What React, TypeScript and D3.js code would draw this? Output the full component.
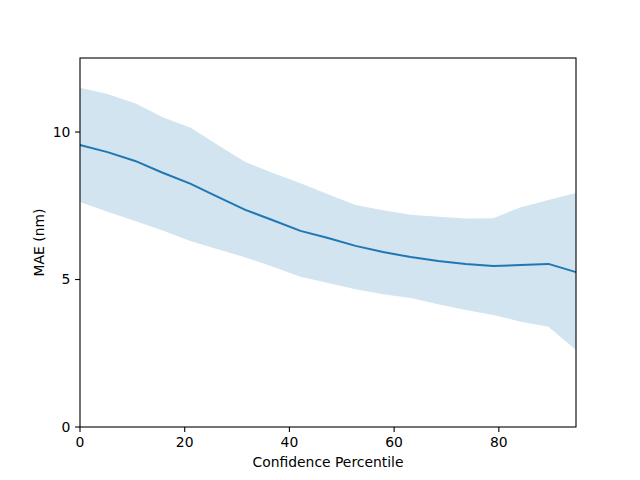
import { scaleLinear, line as d3_line, area as d3_area } from "d3";

// x positions: 19 percentile steps
const percentiles = [0, 5.26, 10.53, 15.79, 21.05, 26.32, 31.58, 36.84, 42.11, 47.37, 52.63, 57.89, 63.16, 68.42, 73.68, 78.95, 84.21, 89.47, 94.74];
const maeMean = [9.56, 9.32, 9.02, 8.62, 8.25, 7.8, 7.36, 7.01, 6.65, 6.41, 6.14, 5.93, 5.76, 5.63, 5.53, 5.46, 5.49, 5.53, 5.25];
const maeUpper = [11.5, 11.29, 10.98, 10.5, 10.15, 9.56, 8.98, 8.61, 8.26, 7.89, 7.53, 7.35, 7.2, 7.13, 7.07, 7.08, 7.45, 7.7, 7.93];
const maeLower = [7.63, 7.3, 6.98, 6.66, 6.31, 6.03, 5.75, 5.43, 5.09, 4.88, 4.67, 4.5, 4.37, 4.16, 3.97, 3.8, 3.57, 3.4, 2.61];
const xTicks = [0, 20, 40, 60, 80];
const yTicks = [0, 5, 10];

const W = 640;
const H = 480;
const margin = { top: 58, right: 64, bottom: 53, left: 80 };
const font = "DejaVu Sans, sans-serif";

export default function App() {
  const x = scaleLinear()
    .domain([0, 94.74])
    .range([margin.left, W - margin.right]);
  const y = scaleLinear()
    .domain([0, 12.51])
    .range([H - margin.bottom, margin.top]);

  const idx = percentiles.map((_, i) => i);

  const band = d3_area<number>()
    .x((i) => x(percentiles[i]))
    .y0((i) => y(maeLower[i]))
    .y1((i) => y(maeUpper[i]));

  const meanLine = d3_line<number>()
    .x((i) => x(percentiles[i]))
    .y((i) => y(maeMean[i]));

  const x0 = margin.left;
  const x1 = W - margin.right;
  const y0 = H - margin.bottom;
  const y1 = margin.top;

  return (
    <svg
      width={W}
      height={H}
      style={{ position: "absolute", left: 0, top: 0, background: "#fff" }}
      fontFamily={font}
    >
      <rect x={0} y={0} width={W} height={H} fill="#fff" />
      <path d={band(idx) ?? ""} fill="#1f77b4" fillOpacity={0.2} stroke="none" />
      <path d={meanLine(idx) ?? ""} fill="none" stroke="#1f77b4" strokeWidth={2} strokeLinejoin="round" />

      {/* spines */}
      <rect x={x0} y={y1} width={x1 - x0} height={y0 - y1} fill="none" stroke="#000" strokeWidth={1.1} />

      {/* x ticks */}
      {xTicks.map((t) => (
        <g key={t} transform={`translate(${x(t)},${y0})`}>
          <line y1={0} y2={4.9} stroke="#000" strokeWidth={1.1} />
          <text y={20} textAnchor="middle" fontSize={13.9} fill="#000">
            {t}
          </text>
        </g>
      ))}

      {/* y ticks */}
      {yTicks.map((t) => (
        <g key={t} transform={`translate(${x0},${y(t)})`}>
          <line x1={0} x2={-4.9} stroke="#000" strokeWidth={1.1} />
          <text x={-9.7} dy="0.35em" textAnchor="end" fontSize={13.9} fill="#000">
            {t}
          </text>
        </g>
      ))}

      <text x={(x0 + x1) / 2} y={467} textAnchor="middle" fontSize={13.9} fill="#000">
        Confidence Percentile
      </text>
      <text
        transform={`translate(44,${(y0 + y1) / 2}) rotate(-90)`}
        textAnchor="middle"
        fontSize={13.9}
        fill="#000"
      >
        MAE (nm)
      </text>
    </svg>
  );
}
